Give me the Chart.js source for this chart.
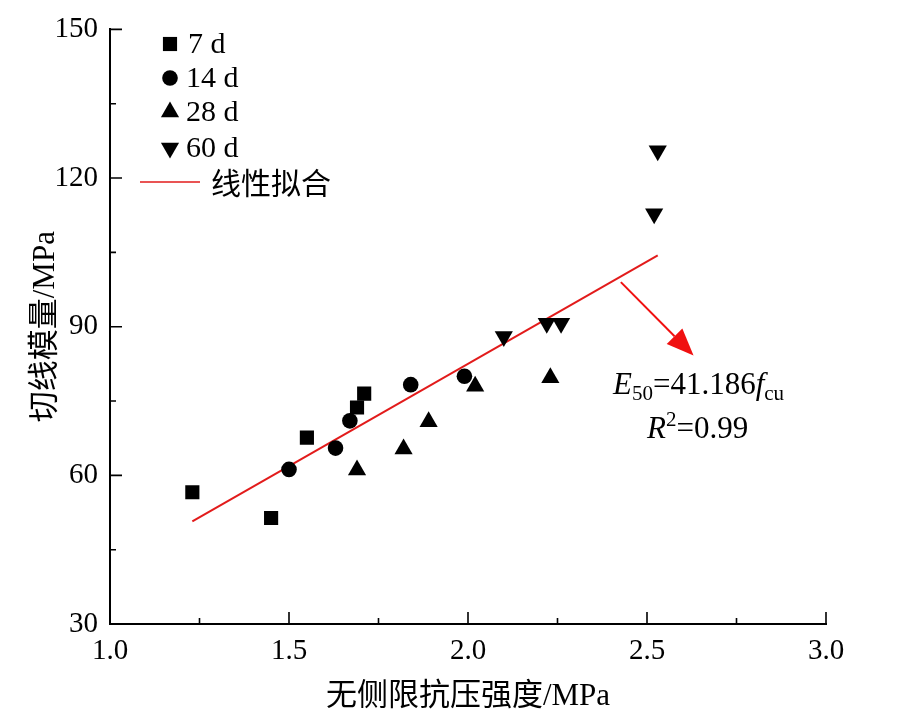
<!DOCTYPE html>
<html>
<head>
<meta charset="utf-8">
<script src="https://cdn.jsdelivr.net/npm/chart.js@4.4.0/dist/chart.umd.min.js"></script>
<style>
  html, body { margin: 0; padding: 0; background: #fff; }
  #wrap { width: 904px; height: 726px; }
</style>
</head>
<body>
<div id="wrap"><canvas id="myChart" width="904" height="726"></canvas></div>
<script>
// 7 d, 14 d, 28 d, 60 d  (x = 无侧限抗压强度 MPa, y = 切线模量 MPa)
const x7 = [1.23, 1.45, 1.55, 1.69, 1.71];
const y7 = [56.6, 51.4, 67.6, 73.7, 76.5];
const x14 = [1.50, 1.63, 1.67, 1.84, 1.99];
const y14 = [61.2, 65.5, 71.0, 78.3, 80.0];
const x28 = [1.69, 1.82, 1.89, 2.02, 2.23];
const y28 = [61.1, 65.3, 70.8, 78.0, 79.7];
const x60 = [2.10, 2.22, 2.26, 2.52, 2.53];
const y60 = [88.0, 90.7, 90.7, 112.8, 125.5];
// 线性拟合 end points
const fitX = [1.23, 2.53];
const fitY = [50.7, 104.4];
const seriesLabels = ["7 d", "14 d", "28 d", "60 d", "线性拟合"];
const xMinor = [1.25, 1.75, 2.25, 2.75];
const yMinor = [45, 75, 105, 135];
// arrow in data units: start, tip
const arrowFrom = [2.427, 99.0];
const arrowTo = [2.63, 84.2];

const SERIF = '"Liberation Serif", "Times New Roman", "Noto Sans CJK SC", serif';
const CJK = '"Noto Sans CJK SC", sans-serif';

function pts(xs, ys) {
  return xs.map((v, i) => ({ x: v, y: ys[i] }));
}

const extras = {
  id: "extras",
  afterDraw(chart) {
    const ctx = chart.ctx;
    const xs = chart.scales.x, ys = chart.scales.y;
    const a = chart.chartArea;
    ctx.save();
    // inward ticks
    ctx.strokeStyle = "#000";
    ctx.lineWidth = 1.6;
    ctx.beginPath();
    xs.ticks.forEach(t => {
      const px = xs.getPixelForValue(t.value);
      ctx.moveTo(px, a.bottom); ctx.lineTo(px, a.bottom - 12);
    });
    xMinor.forEach(v => {
      const px = xs.getPixelForValue(v);
      ctx.moveTo(px, a.bottom); ctx.lineTo(px, a.bottom - 6);
    });
    ys.ticks.forEach(t => {
      const py = ys.getPixelForValue(t.value);
      ctx.moveTo(a.left, py); ctx.lineTo(a.left + 12, py);
    });
    yMinor.forEach(v => {
      const py = ys.getPixelForValue(v);
      ctx.moveTo(a.left, py); ctx.lineTo(a.left + 6, py);
    });
    ctx.stroke();

    // legend
    const rows = [44, 78, 112, 148];
    ctx.textBaseline = "middle";
    ctx.textAlign = "left";
    for (let i = 0; i < 4; i++) {
      const ds = chart.data.datasets[i];
      ctx.fillStyle = "#000";
      Chart.helpers.drawPoint(ctx, {
        pointStyle: ds.pointStyle,
        rotation: ds.pointRotation || 0,
        radius: ds.pointRadius,
        borderWidth: 0
      }, 170, rows[i]);
      ctx.fillStyle = "#000";
      ctx.font = "30px " + SERIF;
      ctx.fillText(seriesLabels[i], i === 0 ? 188 : 186, rows[i] + 1);
    }
    ctx.strokeStyle = chart.data.datasets[4].borderColor;
    ctx.lineWidth = 1.6;
    ctx.beginPath();
    ctx.moveTo(140, 182); ctx.lineTo(200, 182);
    ctx.stroke();
    ctx.fillStyle = "#000";
    ctx.font = "30px " + CJK;
    ctx.fillText(seriesLabels[4], 211, 183);

    // arrow
    const x0 = xs.getPixelForValue(arrowFrom[0]), y0 = ys.getPixelForValue(arrowFrom[1]);
    const x1 = xs.getPixelForValue(arrowTo[0]), y1 = ys.getPixelForValue(arrowTo[1]);
    const ang = Math.atan2(y1 - y0, x1 - x0);
    const hl = 27, hw = 11;
    const bx = x1 - hl * Math.cos(ang), by = y1 - hl * Math.sin(ang);
    ctx.strokeStyle = "#f01010";
    ctx.fillStyle = "#f01010";
    ctx.lineWidth = 2;
    ctx.beginPath();
    ctx.moveTo(x0, y0); ctx.lineTo(bx, by);
    ctx.stroke();
    ctx.beginPath();
    ctx.moveTo(x1, y1);
    ctx.lineTo(bx + hw * Math.sin(ang), by - hw * Math.cos(ang));
    ctx.lineTo(bx - hw * Math.sin(ang), by + hw * Math.cos(ang));
    ctx.closePath();
    ctx.fill();

    // equation text
    ctx.fillStyle = "#000";
    ctx.textBaseline = "alphabetic";
    let tx = 613, base = 394;
    const piece = (s, font, dy) => {
      ctx.font = font;
      ctx.fillText(s, tx, base + dy);
      tx += ctx.measureText(s).width;
    };
    piece("E", "italic 31px " + SERIF, 0);
    piece("50", "21px " + SERIF, 6);
    piece("=41.186", "31px " + SERIF, 0);
    piece("f", "italic 31px " + SERIF, 0);
    piece("cu", "21px " + SERIF, 6);
    tx = 647; base = 438;
    piece("R", "italic 31px " + SERIF, 0);
    piece("2", "21px " + SERIF, -12);
    piece("=0.99", "31px " + SERIF, 0);
    ctx.restore();
  }
};

new Chart(document.getElementById("myChart"), {
  type: "scatter",
  data: {
    datasets: [
      { label: seriesLabels[0], data: pts(x7, y7), pointStyle: "rect", pointRadius: 10, backgroundColor: "#000", borderWidth: 0 },
      { label: seriesLabels[1], data: pts(x14, y14), pointStyle: "circle", pointRadius: 7.8, backgroundColor: "#000", borderWidth: 0 },
      { label: seriesLabels[2], data: pts(x28, y28), pointStyle: "triangle", pointRadius: 10.5, backgroundColor: "#000", borderWidth: 0 },
      { label: seriesLabels[3], data: pts(x60, y60), pointStyle: "triangle", pointRotation: 180, pointRadius: 10.5, backgroundColor: "#000", borderWidth: 0 },
      { label: seriesLabels[4], type: "line", data: pts(fitX, fitY), borderColor: "#e21b1b", borderWidth: 2, pointRadius: 0, fill: false }
    ]
  },
  options: {
    responsive: false,
    animation: false,
    layout: { padding: { top: 27, right: 78, left: 0, bottom: 0 } },
    plugins: {
      legend: { display: false },
      tooltip: { enabled: false }
    },
    scales: {
      x: {
        type: "linear",
        min: 1.0, max: 3.0,
        afterFit: s => { s.height = 102; },
        grid: { display: false, drawTicks: false },
        border: { display: true, color: "#000", width: 2 },
        ticks: {
          stepSize: 0.5, padding: 10, color: "#000",
          font: { family: SERIF, size: 29, lineHeight: 1.2 },
          callback: v => v.toFixed(1)
        },
        title: {
          display: true, text: "无侧限抗压强度/MPa", color: "#000",
          font: { family: SERIF, size: 31, lineHeight: 1.2 },
          padding: { top: 0, bottom: 11 }
        }
      },
      y: {
        type: "linear",
        min: 30, max: 150,
        afterFit: s => { s.width = 110; },
        grid: { display: false, drawTicks: false },
        border: { display: true, color: "#000", width: 2 },
        ticks: {
          stepSize: 30, padding: 12, color: "#000",
          font: { family: SERIF, size: 29, lineHeight: 1.2 }
        },
        title: {
          display: true, text: "切线模量/MPa", color: "#000",
          font: { family: SERIF, size: 31, lineHeight: 1.2 },
          padding: { top: 27, bottom: 0 }
        }
      }
    }
  },
  plugins: [extras]
});
</script>
</body>
</html>
